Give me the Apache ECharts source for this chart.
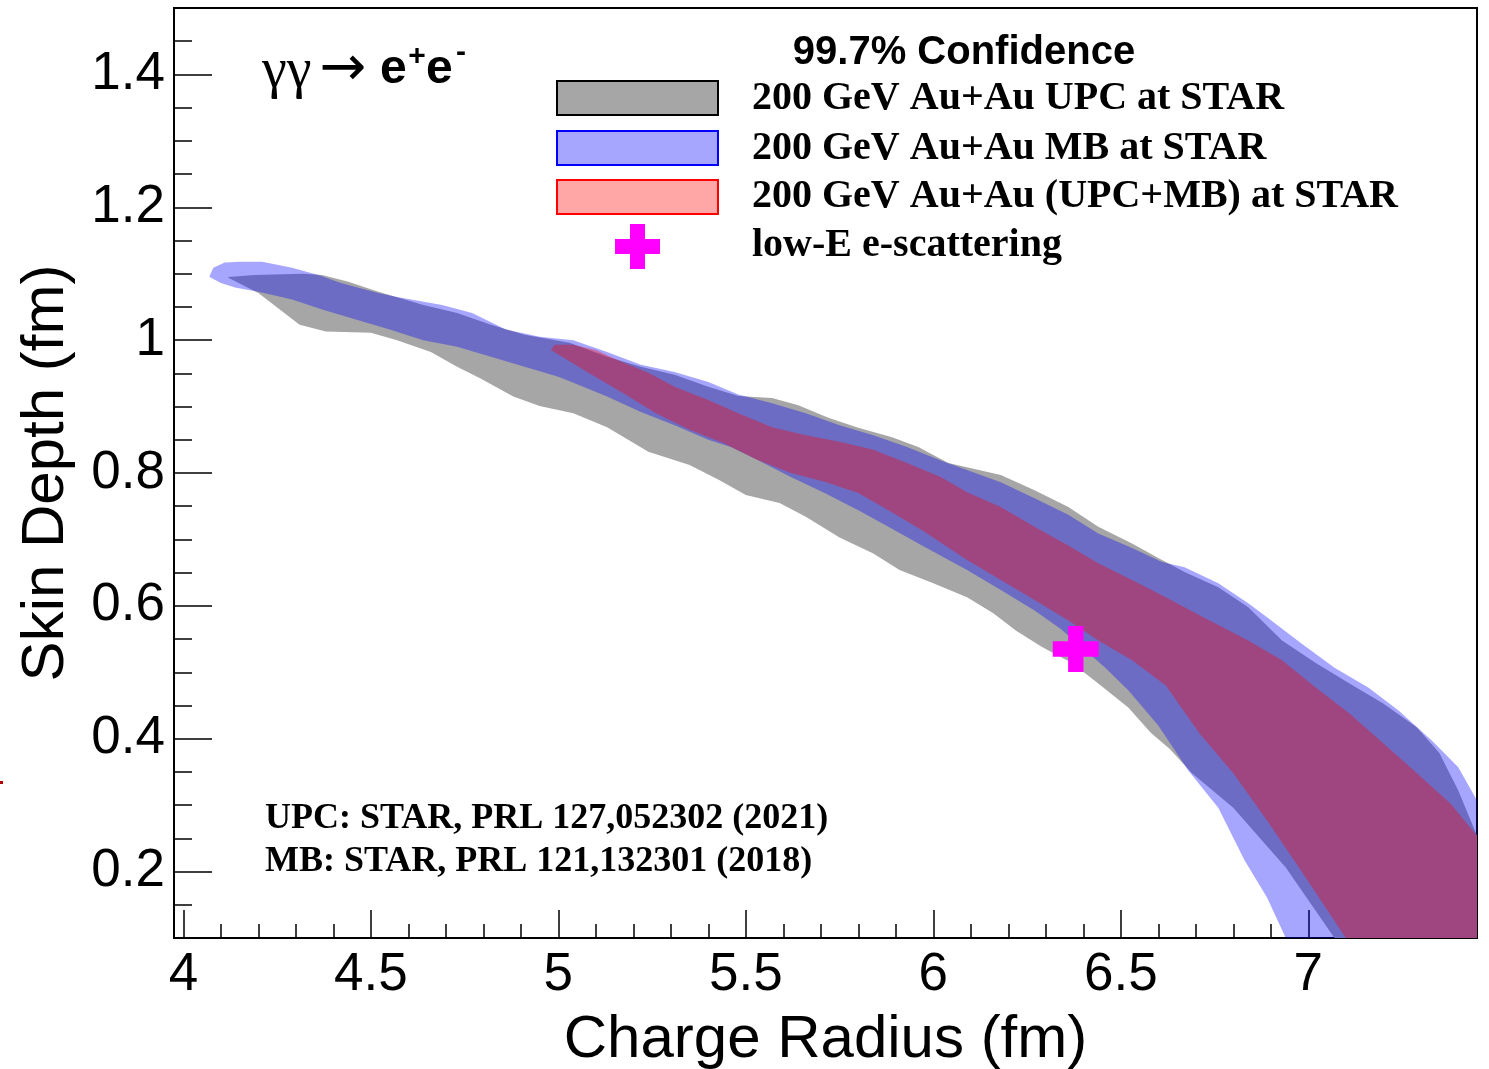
<!DOCTYPE html>
<html>
<head>
<meta charset="utf-8">
<script src="https://cdn.jsdelivr.net/npm/echarts@6/dist/echarts.min.js"></script>
<style>
  html, body { margin: 0; padding: 0; background: #fff; }
  #chart { width: 1489px; height: 1069px; }
</style>
</head>
<body>
<div id="chart"></div>
<script>
// Axis ranges and tick positions
const X_MIN = 3.975, X_MAX = 7.45;
const Y_MIN = 0.1, Y_MAX = 1.5;
const X_MAJOR = [4, 4.5, 5, 5.5, 6, 6.5, 7];
const X_MINOR = [4.1, 4.2, 4.3, 4.4, 4.6, 4.7, 4.8, 4.9, 5.1, 5.2, 5.3, 5.4, 5.6, 5.7, 5.8, 5.9,
                 6.1, 6.2, 6.3, 6.4, 6.6, 6.7, 6.8, 6.9, 7.1, 7.2, 7.3, 7.4];
const Y_MAJOR = [0.2, 0.4, 0.6, 0.8, 1.0, 1.2, 1.4];
const Y_MINOR = [0.15, 0.25, 0.3, 0.35, 0.45, 0.5, 0.55, 0.65, 0.7, 0.75, 0.85, 0.9, 0.95,
                 1.05, 1.1, 1.15, 1.25, 1.3, 1.35, 1.45];

// 99.7% confidence contours: upper and lower edges, [charge radius, skin depth]
const UPC_UPPER = [[4.12,1.095],[4.19,1.098],[4.32,1.100],[4.37,1.098],[4.44,1.088],[4.52,1.073],
  [4.64,1.053],[4.73,1.041],[4.82,1.023],[4.91,1.008],[5.03,0.996],[5.13,0.975],[5.22,0.960],
  [5.31,0.948],[5.40,0.930],[5.48,0.916],[5.57,0.913],[5.64,0.902],[5.72,0.883],[5.80,0.868],
  [5.89,0.854],[5.96,0.839],[6.04,0.815],[6.18,0.797],[6.27,0.774],[6.36,0.749],[6.44,0.719],
  [6.53,0.694],[6.60,0.672],[6.67,0.651],[6.76,0.628],[6.84,0.598],[6.93,0.548],[7.02,0.514],
  [7.11,0.483],[7.20,0.453],[7.29,0.417],[7.35,0.378],[7.40,0.322],[7.45,0.254]];
const UPC_LOWER = [[4.12,1.094],[4.20,1.071],[4.31,1.023],[4.38,1.013],[4.50,1.011],[4.57,1.000],
  [4.66,0.982],[4.73,0.960],[4.79,0.943],[4.88,0.915],[4.95,0.901],[5.04,0.890],[5.13,0.869],
  [5.24,0.832],[5.35,0.812],[5.43,0.789],[5.50,0.767],[5.59,0.755],[5.66,0.734],[5.75,0.703],
  [5.84,0.679],[5.91,0.654],[6.00,0.634],[6.09,0.613],[6.16,0.589],[6.22,0.563],[6.29,0.538],
  [6.37,0.514],[6.44,0.483],[6.52,0.447],[6.58,0.409],[6.63,0.385],[6.69,0.348],[6.80,0.296],
  [6.94,0.206],[7.07,0.100],[7.45,0.100]];

const MB_UPPER = [[4.07,1.097],[4.08,1.109],[4.11,1.117],[4.15,1.118],[4.21,1.118],[4.29,1.109],
  [4.36,1.098],[4.42,1.086],[4.52,1.071],[4.57,1.065],[4.69,1.053],[4.77,1.041],[4.86,1.016],
  [4.95,1.005],[5.04,1.000],[5.13,0.982],[5.22,0.963],[5.31,0.952],[5.40,0.937],[5.48,0.918],
  [5.57,0.905],[5.66,0.890],[5.75,0.872],[5.84,0.857],[5.93,0.839],[6.02,0.819],[6.18,0.786],
  [6.27,0.762],[6.36,0.737],[6.44,0.709],[6.53,0.687],[6.61,0.666],[6.67,0.658],[6.76,0.634],
  [6.84,0.604],[6.89,0.583],[6.98,0.544],[7.07,0.507],[7.16,0.477],[7.24,0.443],[7.33,0.397],
  [7.40,0.357],[7.45,0.307]];
const MB_LOWER = [[4.07,1.095],[4.10,1.086],[4.14,1.079],[4.20,1.073],[4.29,1.061],[4.37,1.046],
  [4.46,1.031],[4.55,1.016],[4.64,1.000],[4.73,0.990],[4.82,0.975],[4.91,0.960],[5.00,0.945],
  [5.04,0.936],[5.13,0.915],[5.22,0.892],[5.31,0.872],[5.40,0.850],[5.46,0.839],[5.53,0.820],
  [5.62,0.794],[5.71,0.770],[5.80,0.744],[5.88,0.719],[5.97,0.691],[6.09,0.654],[6.18,0.624],
  [6.27,0.593],[6.34,0.565],[6.41,0.531],[6.46,0.506],[6.52,0.473],[6.60,0.420],[6.68,0.352],
  [6.76,0.296],[6.83,0.217],[6.89,0.161],[6.94,0.100],[7.45,0.100]];

const COMB_UPPER = [[4.99,0.993],[5.04,0.993],[5.10,0.985],[5.17,0.967],[5.24,0.951],[5.31,0.930],
  [5.40,0.910],[5.48,0.890],[5.57,0.869],[5.66,0.857],[5.75,0.847],[5.84,0.835],[5.93,0.815],
  [6.02,0.794],[6.09,0.771],[6.18,0.749],[6.27,0.719],[6.36,0.691],[6.44,0.664],[6.53,0.639],
  [6.62,0.613],[6.71,0.586],[6.84,0.548],[6.93,0.518],[7.02,0.477],[7.11,0.438],[7.20,0.393],
  [7.29,0.348],[7.38,0.302],[7.45,0.254]];
const COMB_LOWER = [[4.98,0.985],[5.08,0.951],[5.17,0.921],[5.26,0.890],[5.35,0.865],[5.44,0.845],
  [5.53,0.820],[5.62,0.800],[5.71,0.787],[5.80,0.770],[5.88,0.744],[5.97,0.714],[6.09,0.669],
  [6.18,0.639],[6.27,0.609],[6.36,0.578],[6.44,0.548],[6.53,0.518],[6.62,0.480],[6.71,0.408],
  [6.80,0.348],[6.89,0.277],[6.98,0.202],[7.10,0.100],[7.45,0.100]];

// Low-energy electron scattering point
const ESCAT = [[6.38, 0.535]];

const SANS = "'Liberation Sans', Arial, Helvetica, sans-serif";
const SERIF = "'Liberation Serif', 'Times New Roman', serif";

const FILL_UPC = 'rgb(166,166,166)';
const FILL_MB = 'rgba(0,0,255,0.35)';
const FILL_COMB = 'rgba(255,0,0,0.35)';

function band(name, upper, lower, fill) {
  const outline = upper.concat(lower.slice().reverse());
  return {
    type: 'custom',
    name: name,
    clip: true,
    silent: true,
    data: outline,
    renderItem: function (params, api) {
      if (params.dataIndex !== 0) return null;
      return {
        type: 'polygon',
        shape: { points: outline.map(function (p) { return api.coord(p); }) },
        style: { fill: fill, stroke: null }
      };
    }
  };
}

const tickStyle = { color: '#000', width: 1.5 };

const chart = echarts.init(document.getElementById('chart'), null, { renderer: 'canvas' });
chart.setOption({
  animation: false,
  backgroundColor: '#fff',
  grid: { left: 174, top: 8, right: 12, bottom: 131, show: true, containLabel: false,
          outerBoundsMode: 'none',
          borderColor: '#000', borderWidth: 2, backgroundColor: 'transparent' },
  xAxis: [
    { type: 'value', min: X_MIN, max: X_MAX, position: 'bottom',
      axisLine: { show: false }, splitLine: { show: false },
      axisTick: { inside: true, length: 28, customValues: X_MAJOR, lineStyle: tickStyle },
      axisLabel: { customValues: X_MAJOR, margin: 11, color: '#000', fontSize: 53, fontFamily: SANS },
      name: 'Charge Radius (fm)', nameLocation: 'middle', nameGap: 72,
      nameTextStyle: { fontSize: 60, fontFamily: SANS, color: '#000' } },
    { type: 'value', min: X_MIN, max: X_MAX, position: 'bottom',
      axisLine: { show: false }, splitLine: { show: false },
      axisTick: { inside: true, length: 14, customValues: X_MINOR, lineStyle: tickStyle },
      axisLabel: { show: false } }
  ],
  yAxis: [
    { type: 'value', min: Y_MIN, max: Y_MAX, position: 'left',
      axisLine: { show: false }, splitLine: { show: false },
      axisTick: { inside: true, length: 38, customValues: Y_MAJOR, lineStyle: tickStyle },
      axisLabel: { customValues: Y_MAJOR, margin: 9, color: '#000', fontSize: 53, fontFamily: SANS },
      name: 'Skin Depth (fm)', nameLocation: 'middle', nameGap: 98, nameRotate: 90,
      nameTextStyle: { fontSize: 60, fontFamily: SANS, color: '#000' } },
    { type: 'value', min: Y_MIN, max: Y_MAX, position: 'left',
      axisLine: { show: false }, splitLine: { show: false },
      axisTick: { inside: true, length: 18, customValues: Y_MINOR, lineStyle: tickStyle },
      axisLabel: { show: false } }
  ],
  series: [
    band('200 GeV Au+Au UPC at STAR', UPC_UPPER, UPC_LOWER, FILL_UPC),
    band('200 GeV Au+Au MB at STAR', MB_UPPER, MB_LOWER, FILL_MB),
    band('200 GeV Au+Au (UPC+MB) at STAR', COMB_UPPER, COMB_LOWER, FILL_COMB),
    { type: 'scatter', name: 'low-E e-scattering', data: ESCAT, z: 5,
      symbol: 'path://M1,0H2V1H3V2H2V3H1V2H0V1H1Z', symbolSize: 46, symbolKeepAspect: true,
      itemStyle: { color: '#ff00ff', opacity: 1 }, silent: true }
  ],
  graphic: [
    // process label
    { type: 'text', x: 262, y: 72, style: { text: 'γγ', font: "56px " + SERIF, fill: '#000', align: 'left', verticalAlign: 'middle' } },
    { type: 'text', x: 343, y: 70, style: { text: '→', font: "56px 'DejaVu Sans', sans-serif", fill: '#000', align: 'center', verticalAlign: 'middle' } },
    { type: 'text', x: 380, y: 70, style: { text: 'e', font: "bold 48px " + SANS, fill: '#000', align: 'left', verticalAlign: 'middle' } },
    { type: 'text', x: 417, y: 57, style: { text: '+', font: "bold 30px " + SANS, fill: '#000', align: 'center', verticalAlign: 'middle' } },
    { type: 'text', x: 426, y: 70, style: { text: 'e', font: "bold 48px " + SANS, fill: '#000', align: 'left', verticalAlign: 'middle' } },
    { type: 'text', x: 461, y: 53, style: { text: '-', font: "bold 30px " + SANS, fill: '#000', align: 'center', verticalAlign: 'middle' } },

    // legend
    { type: 'text', x: 964, y: 53, style: { text: '99.7% Confidence', font: "bold 40px " + SANS, fill: '#000', align: 'center', verticalAlign: 'middle' } },
    { type: 'rect', shape: { x: 557, y: 81, width: 161, height: 34 }, style: { fill: FILL_UPC, stroke: '#000', lineWidth: 2 } },
    { type: 'rect', shape: { x: 557, y: 131, width: 161, height: 34 }, style: { fill: 'rgb(166,166,255)', stroke: '#0000ff', lineWidth: 2 } },
    { type: 'rect', shape: { x: 557, y: 180, width: 161, height: 34 }, style: { fill: 'rgb(255,166,166)', stroke: '#ff0000', lineWidth: 2 } },
    { type: 'polygon', shape: { points: [[630,224],[645,224],[645,239],[660,239],[660,254],[645,254],[645,269],[630,269],[630,254],[615,254],[615,239],[630,239]] },
      style: { fill: '#ff00ff' } },
    { type: 'text', x: 752, y: 99, style: { text: '200 GeV Au+Au UPC at STAR', font: "bold 40px " + SERIF, fill: '#000', align: 'left', verticalAlign: 'middle' } },
    { type: 'text', x: 752, y: 149, style: { text: '200 GeV Au+Au MB at STAR', font: "bold 40px " + SERIF, fill: '#000', align: 'left', verticalAlign: 'middle' } },
    { type: 'text', x: 752, y: 197, style: { text: '200 GeV Au+Au (UPC+MB) at STAR', font: "bold 40px " + SERIF, fill: '#000', align: 'left', verticalAlign: 'middle' } },
    { type: 'text', x: 752, y: 246, style: { text: 'low-E e-scattering', font: "bold 40px " + SERIF, fill: '#000', align: 'left', verticalAlign: 'middle' } },

    // references
    { type: 'text', x: 265, y: 819, style: { text: 'UPC: STAR, PRL 127,052302 (2021)', font: "bold 36px " + SERIF, fill: '#000', align: 'left', verticalAlign: 'middle' } },
    { type: 'text', x: 265, y: 862, style: { text: 'MB: STAR, PRL 121,132301 (2018)', font: "bold 36px " + SERIF, fill: '#000', align: 'left', verticalAlign: 'middle' } },

    // stray mark at the left margin
    { type: 'rect', shape: { x: 0, y: 781, width: 3, height: 3 }, style: { fill: '#b00000' } }
  ]
});
</script>
</body>
</html>
